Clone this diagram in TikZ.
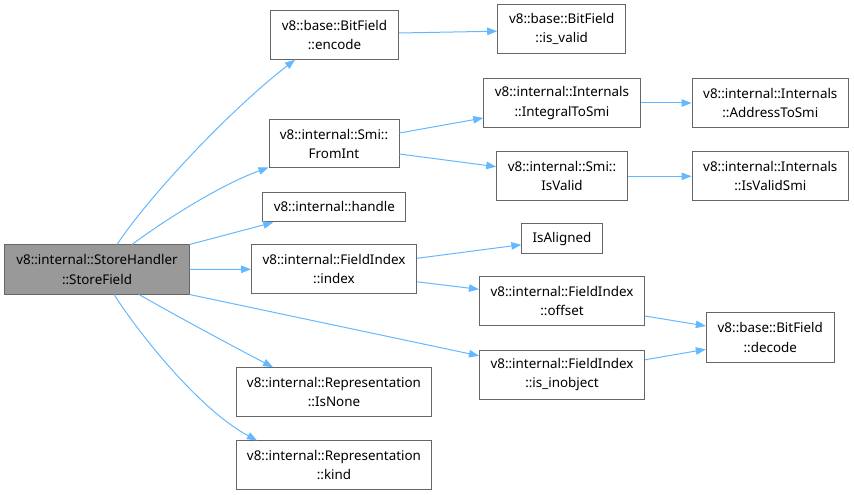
\documentclass[tikz,border=0pt]{standalone}
\usepackage{fontspec}
\setmainfont{Noto Sans}
\usetikzlibrary{arrows.meta}
\definecolor{edgeblue}{HTML}{63B8FF}
\definecolor{boxborder}{HTML}{666666}
\definecolor{hlfill}{HTML}{999999}
\tikzset{
  fn/.style={draw=boxborder, line width=1bp, fill=white, rectangle, align=center, inner sep=0pt,
    font=\fontsize{13.4bp}{19.3bp}\selectfont},
  hl/.style={fn, fill=hlfill},
  conn/.style={draw=edgeblue, line width=1bp, -{Triangle[length=10bp,width=7.5bp]}},
}
\begin{document}
\begin{tikzpicture}[x=1bp,y=-1bp]
\useasboundingbox (0,0) rectangle (854,495);
\node[hl, minimum width=184bp, minimum height=49bp] (sf) at (97,269.5) {v8::internal::StoreHandler\\::StoreField};
\node[fn, minimum width=128bp, minimum height=48.5bp] (enc) at (334.5,35) {v8::base::BitField\\::encode};
\node[fn, minimum width=128bp, minimum height=49bp] (isv) at (561.7,29.2) {v8::base::BitField\\::is\_valid};
\node[fn, minimum width=130bp, minimum height=48bp] (fi) at (334,144) {v8::internal::Smi::\\FromInt};
\node[fn, minimum width=156.6bp, minimum height=48.3bp] (its) at (562,103) {v8::internal::Internals\\::IntegralToSmi};
\node[fn, minimum width=156.6bp, minimum height=48.3bp] (ats) at (770.3,103) {v8::internal::Internals\\::AddressToSmi};
\node[fn, minimum width=130.6bp, minimum height=48.7bp] (iv) at (562,176.3) {v8::internal::Smi::\\IsValid};
\node[fn, minimum width=156.6bp, minimum height=48.7bp] (ivs) at (770.3,176.3) {v8::internal::Internals\\::IsValidSmi};
\node[fn, minimum width=142.7bp, minimum height=29.7bp] (hd) at (334.3,207) {v8::internal::handle};
\node[fn, minimum width=165bp, minimum height=48.7bp] (idx) at (334,269.3) {v8::internal::FieldIndex\\::index};
\node[fn, minimum width=80.3bp, minimum height=30bp] (ia) at (562,238.7) {IsAligned};
\node[fn, minimum width=165bp, minimum height=48.7bp] (off) at (562,301.3) {v8::internal::FieldIndex\\::offset};
\node[fn, minimum width=128bp, minimum height=49bp] (dec) at (770.3,337.5) {v8::base::BitField\\::decode};
\node[fn, minimum width=165bp, minimum height=49bp] (ino) at (562,374.8) {v8::internal::FieldIndex\\::is\_inobject};
\node[fn, minimum width=195.7bp, minimum height=48.6bp] (isn) at (334,392) {v8::internal::Representation\\::IsNone};
\node[fn, minimum width=195.7bp, minimum height=48.7bp] (knd) at (334,465.3) {v8::internal::Representation\\::kind};

\draw[conn] ([xshift=20bp]sf.north) .. controls (150,195) and (230,110) .. ([xshift=-39.5bp]enc.south);
\draw[conn] ([xshift=35bp]sf.north) .. controls (165,220) and (220,185) .. ([yshift=1bp]fi.south west);
\draw[conn] (sf.north east) -- ([xshift=-61bp]hd.south);
\draw[conn] (sf.east) -- (idx.west);
\draw[conn] (sf.south east) -- ([yshift=19bp]ino.west);
\draw[conn] ([xshift=42bp]sf.south) .. controls (180,318) and (240,350) .. ([xshift=-61bp]isn.north);
\draw[conn] ([xshift=17bp]sf.south) .. controls (140,335) and (200,410) .. ([xshift=-77bp]knd.north);
\draw[conn] ([yshift=2bp]enc.east) -- ([yshift=-2bp]isv.west);
\draw[conn] ([yshift=11bp]fi.east) -- ([yshift=-15bp]its.west);
\draw[conn] ([yshift=-10bp]fi.east) -- ([yshift=9.6bp]iv.west);
\draw[conn] (its.east) -- (ats.west);
\draw[conn] (iv.east) -- (ivs.west);
\draw[conn] ([yshift=11bp]idx.east) -- ([yshift=-6bp]ia.west);
\draw[conn] ([yshift=-12.5bp]idx.east) -- ([yshift=12bp]off.west);
\draw[conn] ([yshift=-14.7bp]off.east) -- ([yshift=11.5bp]dec.west);
\draw[conn] ([yshift=15bp]ino.east) -- ([yshift=-11.8bp]dec.west);
\end{tikzpicture}
\end{document}
